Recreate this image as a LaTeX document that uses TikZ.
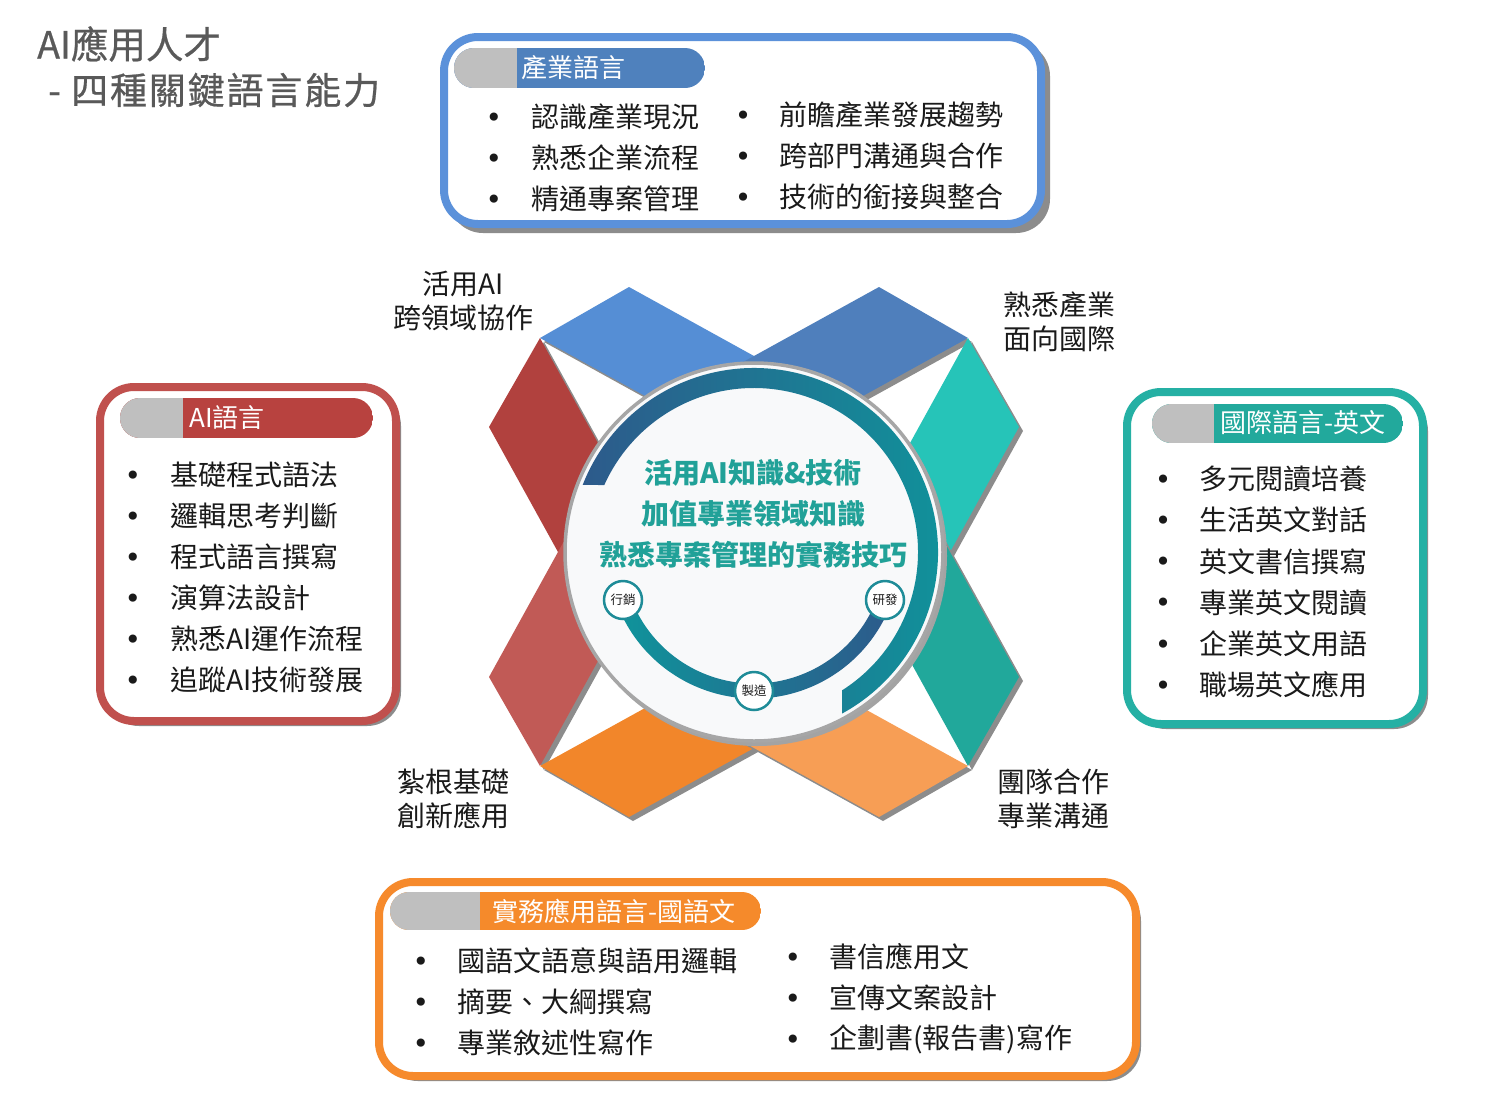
\documentclass[tikz,border=0pt]{standalone}
\usepackage{fontspec}
\setmainfont{Noto Sans CJK TC}
\newfontfamily\bulletfont{DejaVu Sans}
\newfontfamily\titlefont{Noto Sans CJK TC}[FakeBold=0.6]
\newfontfamily\titlespaced{Noto Sans CJK TC}[FakeBold=0.6,LetterSpace=5]

\definecolor{bxBlue}{HTML}{5B91DA}
\definecolor{bxRed}{HTML}{C0504D}
\definecolor{bxTeal}{HTML}{25B0A4}
\definecolor{bxOrange}{HTML}{F68A2C}
\definecolor{hdBlue}{HTML}{4F81BD}
\definecolor{hdRed}{HTML}{B8423F}
\definecolor{hdTeal}{HTML}{22A99C}
\definecolor{hdOrange}{HTML}{F58A2B}
\definecolor{hdGray}{HTML}{BFBFBF}
\definecolor{shGray}{HTML}{8C8C8C}
\definecolor{txt}{HTML}{1A1A1A}
\definecolor{ttl}{HTML}{595959}
\definecolor{pBlueA}{HTML}{558ED5}
\definecolor{pBlueB}{HTML}{4F7FBC}
\definecolor{pRedA}{HTML}{B1413E}
\definecolor{pRedB}{HTML}{C15A56}
\definecolor{pTealA}{HTML}{26C4B8}
\definecolor{pTealB}{HTML}{21A89B}
\definecolor{pOrA}{HTML}{F2862A}
\definecolor{pOrB}{HTML}{F79E55}
\definecolor{arcBlue}{HTML}{2D5A8B}
\definecolor{arcTeal}{HTML}{0F949B}
\definecolor{ctrTxt}{HTML}{21A198}
\definecolor{circFill}{HTML}{F8F9FA}
\definecolor{ringGray}{HTML}{A6A6A6}
\definecolor{smRing}{HTML}{1F8C98}

\newcommand\xpiece[5]{%
  \fill[shGray, shift={(4,4)}] (#2) -- (#3) -- (#4) -- (#5) -- cycle;
  \fill[#1] (#2) -- (#3) -- (#4) -- (#5) -- cycle;
}

\begin{document}
\begin{tikzpicture}[x=1pt,y=-1pt,
  listtext/.style={anchor=west, inner sep=0pt, text=txt, font=\fontsize{28}{34}\selectfont},
  bul/.style={anchor=center, inner sep=0pt, text=txt, font=\bulletfont\fontsize{28}{30}\selectfont, yshift=-3pt},
  hdr/.style={anchor=west, inner sep=0pt, text=white, font=\fontsize{26}{30}\selectfont},
  clabel/.style={inner sep=0pt, text=txt, font=\fontsize{28}{34}\selectfont},
  ctr/.style={inner sep=0pt, text=ctrTxt, font=\bfseries\fontsize{28}{32}\selectfont},
  smallc/.style={circle, draw=smRing, line width=2.5pt, fill=white, minimum size=38pt, inner sep=0pt, text=txt, font=\fontsize{12.5}{14}\selectfont},
  boxshadow/.style={fill=shGray, rounded corners=34pt},
  boxframe/.style={line width=8pt, fill=white, rounded corners=34pt}
]
\useasboundingbox (0,0) rectangle (1500,1104);
\fill[white] (0,0) rectangle (1500,1104);

% ---------- title ----------
\node[anchor=west, inner sep=0pt, text=ttl, font=\titlefont\fontsize{37.5}{40}\selectfont] (t1) at (37,44) {AI應用人才};
\node[anchor=west, inner sep=0pt, text=ttl, font=\titlespaced\fontsize{37}{40}\selectfont] (t2) at (48,90) {- 四種關鍵語言能力};

% ---------- X shape ----------
\xpiece{pBlueA}{540,338}{629,287}{791.5,376.7}{702.5,427.7}
\xpiece{pBlueB}{968,338}{879,287}{716.5,376.7}{805.5,427.7}
\xpiece{pRedA}{540,338}{489,427}{578.7,589.5}{629.7,500.5}
\xpiece{pRedB}{540,766}{489,677}{578.7,514.5}{629.7,603.5}
\xpiece{pTealA}{968,338}{1019,427}{929.3,589.5}{878.3,500.5}
\xpiece{pTealB}{968,766}{1019,677}{929.3,514.5}{878.3,603.5}
\xpiece{pOrA}{540,766}{629,817}{791.5,727.3}{702.5,676.3}
\xpiece{pOrB}{968,766}{879,817}{716.5,727.3}{805.5,676.3}

% ---------- central circle ----------
\fill[shGray!80] (757,556) circle (190);
\fill[circFill, draw=ringGray, line width=3.5pt] (754,552) circle (189);
\begin{scope}[shift={(754,552)}]
  \shade[left color=arcBlue, right color=arcTeal]
    (-158.6:184) arc[start angle=-158.6, end angle=61.4, radius=184]
    -- (57.5:164) arc[start angle=57.5, end angle=-155.9, radius=164] -- cycle;
  \shade[left color=arcTeal, right color=arcBlue]
    (160:146.5) arc[start angle=160, end angle=20, radius=146.5]
    -- (20:131.5) arc[start angle=20, end angle=160, radius=131.5] -- cycle;
\end{scope}
\node[ctr] (c1) at (753,473) {活用AI知識\&技術};
\node[ctr] (c2) at (753,514) {加值專業領域知識};
\node[ctr] (c3) at (753,555) {熟悉專案管理的實務技巧};
\node[smallc] (mk) at (623,600) {行銷};
\node[smallc] (rd) at (885,600) {研發};
\node[smallc] (mf) at (754,691) {製造};

% ---------- corner labels ----------
\node[clabel, align=center] (lab1) at (463,301) {活用AI\\跨領域協作};
\node[clabel, align=left, anchor=west] (lab2) at (1003,322) {熟悉產業\\面向國際};
\node[clabel, align=left, anchor=west] (lab3) at (397,799) {紮根基礎\\創新應用};
\node[clabel, align=left, anchor=west] (lab4) at (997,799) {團隊合作\\專業溝通};

% ---------- top box ----------
\fill[boxshadow] (449,42) rectangle (1050,233);
\draw[boxframe, draw=bxBlue] (444,37) rectangle (1041,224);
\begin{scope}
  \clip[rounded corners=20pt] (454,48) rectangle (705,88);
  \fill[hdBlue] (454,48) rectangle (705,88);
  \fill[hdGray] (454,48) rectangle (517,88);
\end{scope}
\node[hdr] (h1) at (521,68) {產業語言};
\foreach \t [count=\i] in {認識產業現況,熟悉企業流程,精通專案管理}{
  \node[bul] (ba\i) at (494,{117+41*(\i-1)}) {•};
  \node[listtext] (ta\i) at (531,{117+41*(\i-1)}) {\t};
}
\foreach \t [count=\i] in {前瞻產業發展趨勢,跨部門溝通與合作,技術的銜接與整合}{
  \node[bul] (bb\i) at (743,{115+41*(\i-1)}) {•};
  \node[listtext] (tb\i) at (779,{115+41*(\i-1)}) {\t};
}

% ---------- left box ----------
\fill[boxshadow] (105,392) rectangle (401,726);
\draw[boxframe, draw=bxRed] (100,387) rectangle (396,721);
\begin{scope}
  \clip[rounded corners=20pt] (120,398) rectangle (373,438);
  \fill[hdRed] (120,398) rectangle (373,438);
  \fill[hdGray] (120,398) rectangle (183,438);
\end{scope}
\node[hdr] (h2) at (189,418) {AI語言};
\foreach \t [count=\i] in {基礎程式語法,邏輯思考判斷,程式語言撰寫,演算法設計,熟悉AI運作流程,追蹤AI技術發展}{
  \node[bul] (bc\i) at (133,{475+41*(\i-1)}) {•};
  \node[listtext] (tc\i) at (170,{475+41*(\i-1)}) {\t};
}

% ---------- right box ----------
\fill[boxshadow] (1132,397) rectangle (1428,729);
\draw[boxframe, draw=bxTeal] (1127,392) rectangle (1423,724);
\begin{scope}
  \clip[rounded corners=19.5pt] (1152,404) rectangle (1403,443);
  \fill[hdTeal] (1152,404) rectangle (1403,443);
  \fill[hdGray] (1152,404) rectangle (1214,443);
\end{scope}
\node[hdr] (h3) at (1220,423) {國際語言-英文};
\foreach \t [count=\i] in {多元閱讀培養,生活英文對話,英文書信撰寫,專業英文閱讀,企業英文用語,職場英文應用}{
  \node[bul] (bd\i) at (1163,{479+41.2*(\i-1)}) {•};
  \node[listtext] (td\i) at (1199,{479+41.2*(\i-1)}) {\t};
}

% ---------- bottom box ----------
\fill[boxshadow] (384,887) rectangle (1141,1081);
\draw[boxframe, draw=bxOrange] (379,882) rectangle (1136,1076);
\begin{scope}
  \clip[rounded corners=19pt] (390,892) rectangle (761,930);
  \fill[hdOrange] (390,892) rectangle (761,930);
  \fill[hdGray] (390,892) rectangle (480,930);
\end{scope}
\node[hdr] (h4) at (492,911) {實務應用語言-國語文};
\foreach \t [count=\i] in {國語文語意與語用邏輯,摘要、大綱撰寫,專業敘述性寫作}{
  \node[bul] (be\i) at (421,{961+41*(\i-1)}) {•};
  \node[listtext] (te\i) at (457,{961+41*(\i-1)}) {\t};
}
\foreach \t [count=\i] in {書信應用文,宣傳文案設計,企劃書(報告書)寫作}{
  \node[bul] (bf\i) at (793,{957+41*(\i-1)}) {•};
  \node[listtext] (tf\i) at (829,{957+41*(\i-1)}) {\t};
}
\end{tikzpicture}
\end{document}
